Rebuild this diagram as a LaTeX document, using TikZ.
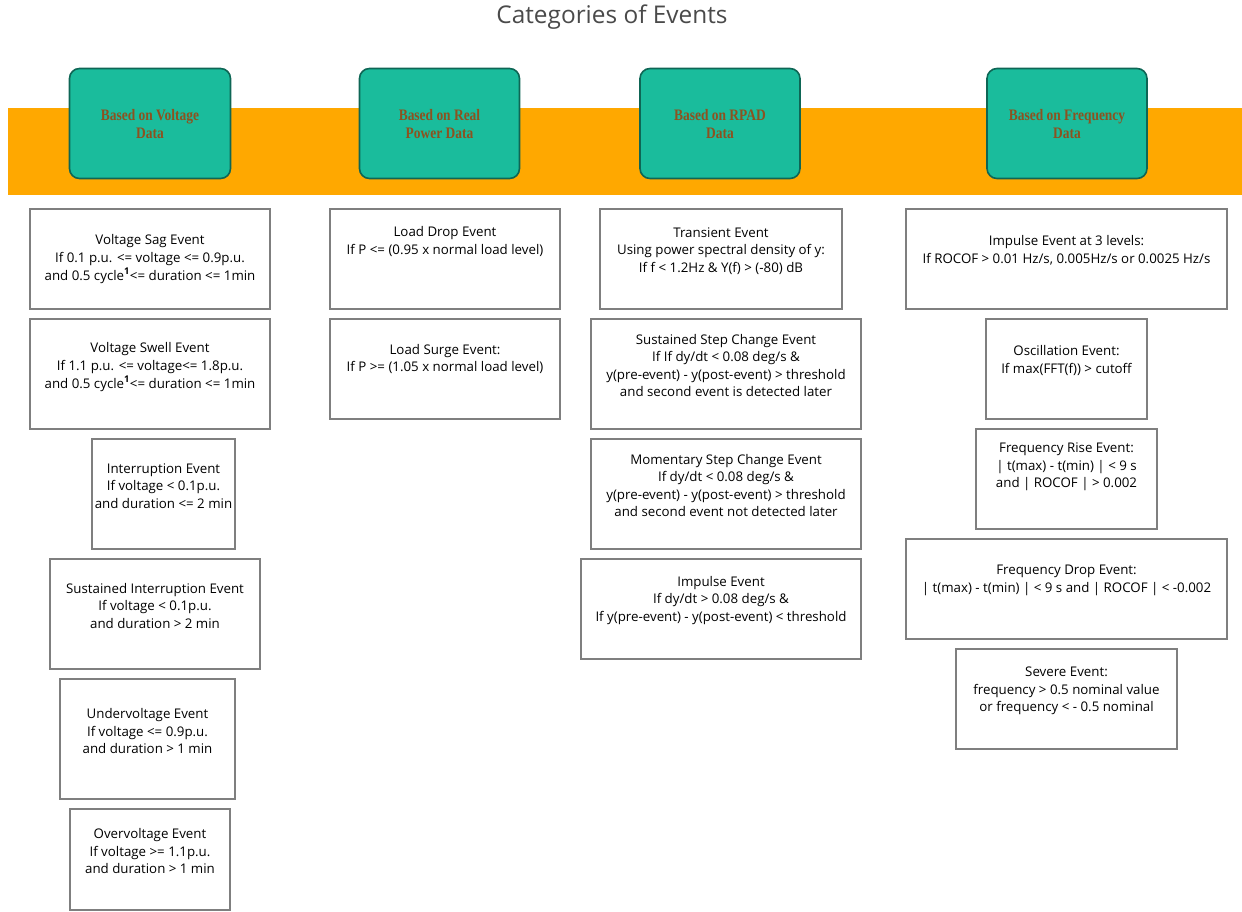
\documentclass[tikz,border=0pt]{standalone}
\usepackage{fontspec}
\usepackage{graphicx}
\setmainfont{Open Sans}
\newfontfamily\hdrfont{Liberation Serif}
\definecolor{bandorange}{HTML}{FFA800}
\definecolor{teal1}{HTML}{1ABC9C}
\definecolor{tealdark}{HTML}{0E6655}
\definecolor{hdrbrown}{HTML}{8C5220}
\definecolor{boxgray}{HTML}{7F7F7F}
\definecolor{titlegray}{HTML}{4A4A4A}
\tikzset{
  hdrbox/.style={draw=tealdark, line width=1.6pt, fill=teal1, rounded corners=10pt, inner sep=0pt},
  hdrtext/.style={text=hdrbrown, inner sep=0pt},
  evbox/.style={draw=boxgray, line width=1.6pt, fill=white, inner sep=0pt},
  evtext/.style={font=\fontsize{13.3}{17.6}\selectfont, text=black, align=center, inner sep=0pt},
}
\newcommand{\hdrlabel}[1]{\scalebox{0.84}[1]{\hdrfont\bfseries\fontsize{16}{18}\selectfont\begin{tabular}{@{}c@{}}#1\end{tabular}}}
\newcommand{\evbox}[6]{% name, x1, y1, x2, y2, (unused)
  \node[evbox, minimum width={#4-#2}, minimum height={#5-#3}] (#1) at ({(#2+#4)/2},{(#3+#5)/2}) {};
}
\begin{document}
\begin{tikzpicture}[x=1pt,y=-1pt]
\useasboundingbox (0,0) rectangle (1242,911);
% title
\node[font=\fontsize{24.4}{28}\selectfont, text=titlegray, inner sep=0pt] (title) at (612,17) {Categories of Events};
% orange band
\fill[bandorange] (8,108) rectangle (1242,195);
\node[inner sep=0pt, minimum width=0pt] (band) at (625,151.5) {};
% header boxes
\node[hdrbox, minimum width=161pt, minimum height=110pt] (h1) at (150,123.5) {};
\node[hdrtext] (h1t) at (150,126) {\hdrlabel{Based on Voltage\\Data}};
\node[hdrbox, minimum width=160pt, minimum height=110pt] (h2) at (439.5,123.5) {};
\node[hdrtext] (h2t) at (439.5,126) {\hdrlabel{Based on Real\\Power Data}};
\node[hdrbox, minimum width=160pt, minimum height=110pt] (h3) at (720,123.5) {};
\node[hdrtext] (h3t) at (720,126) {\hdrlabel{Based on RPAD\\Data}};
\node[hdrbox, minimum width=160pt, minimum height=110pt] (h4) at (1067,123.5) {};
\node[hdrtext] (h4t) at (1067,126) {\hdrlabel{Based on Frequency\\Data}};

% ---- Column 1 ----
\evbox{sag}{30}{209}{270}{309}{}
\node[evtext] (sagt) at (150,259) {Voltage Sag Event\\If 0.1 p.u. <= voltage <= 0.9p.u.\\and 0.5 cycle\textsuperscript{\bfseries 1}<= duration <= 1min};
\evbox{swell}{30}{319}{270}{429}{}
\node[evtext] (swellt) at (150,367) {Voltage Swell Event\\If 1.1 p.u. <= voltage<= 1.8p.u.\\ and 0.5 cycle\textsuperscript{\bfseries 1}<= duration <= 1min};
\evbox{intr}{92}{439}{235}{549}{}
\node[evtext] (intrt) at (163.5,486) {Interruption Event\\If voltage < 0.1p.u.\\ and duration <= 2 min};
\evbox{sintr}{50}{559}{260}{669}{}
\node[evtext] (sintrt) at (155,606) {Sustained Interruption Event\\If voltage < 0.1p.u.\\ and duration > 2 min};
\evbox{under}{60}{679}{235}{799}{}
\node[evtext] (undert) at (147.5,731) {Undervoltage Event\\If voltage <= 0.9p.u.\\ and duration > 1 min};
\evbox{over}{70}{809}{230}{910}{}
\node[evtext] (overt) at (150,851) {Overvoltage Event\\If voltage >= 1.1p.u.\\ and duration > 1 min};

% ---- Column 2 ----
\evbox{ldrop}{330}{209}{560}{309}{}
\node[evtext] (ldropt) at (445,241.5) {Load Drop Event\\ If P <= (0.95 x normal load level)};
\evbox{lsurge}{330}{319}{560}{419}{}
\node[evtext] (lsurget) at (445,359) {Load Surge Event:\\If P >= (1.05 x normal load level)};

% ---- Column 3 ----
\evbox{trans}{600}{209}{842}{309}{}
\node[evtext] (transt) at (721,251) {Transient Event\\Using power spectral density of y:\\If f < 1.2Hz \& Y(f) > (-80) dB};
\evbox{sstep}{591}{319}{861}{429}{}
\node[evtext] (sstept) at (726,365.5) {Sustained Step Change Event\\If If dy/dt < 0.08 deg/s \&\\y(pre-event) - y(post-event) > threshold\\ and second event is detected later};
\evbox{mstep}{591}{439}{861}{549}{}
\node[evtext] (mstept) at (726,485.5) {Momentary Step Change Event\\If dy/dt < 0.08 deg/s \&\\y(pre-event) - y(post-event) > threshold\\and second event not detected later};
\evbox{imp}{581}{559}{861}{659}{}
\node[evtext] (impt) at (721,600.5) {Impulse Event\\If dy/dt > 0.08 deg/s \&\\If y(pre-event) - y(post-event) < threshold};

% ---- Column 4 ----
\evbox{imp3}{906}{209}{1227}{309}{}
\node[evtext] (imp3t) at (1066.5,250.5) {Impulse Event at 3 levels:\\If ROCOF > 0.01 Hz/s, 0.005Hz/s or 0.0025 Hz/s};
\evbox{osc}{986}{319}{1147}{419}{}
\node[evtext] (osct) at (1066.5,360.5) {Oscillation Event:\\ If max(FFT(f)) > cutoff};
\evbox{frise}{976}{429}{1157}{529}{}
\node[evtext] (friset) at (1066.5,467) {Frequency Rise Event:\\| t(max) - t(min) | < 9 s\\and | ROCOF | > 0.002};
\evbox{fdrop}{906}{539}{1227}{639}{}
\node[evtext] (fdropt) at (1066.5,580.5) {Frequency Drop Event:\\ | t(max) - t(min) | < 9 s and | ROCOF | < -0.002};
\evbox{severe}{956}{649}{1177}{749}{}
\node[evtext] (severet) at (1066.5,691) {Severe Event:\\frequency > 0.5 nominal value\\ or frequency < - 0.5 nominal};
\end{tikzpicture}
\end{document}
